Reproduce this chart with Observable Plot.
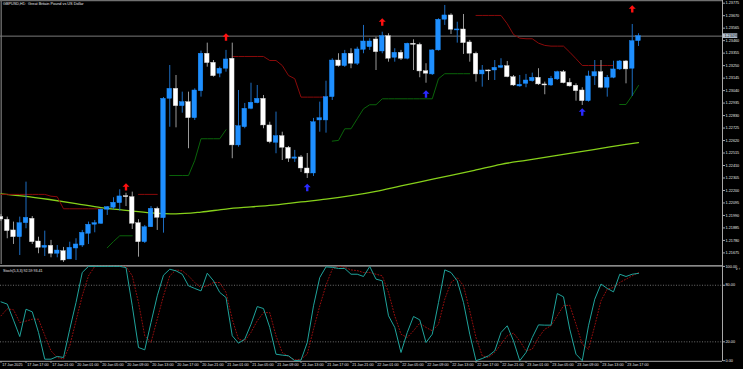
<!DOCTYPE html>
<html><head><meta charset="utf-8">
<script src="https://cdn.jsdelivr.net/npm/d3@7"></script>
<script src="https://cdn.jsdelivr.net/npm/@observablehq/plot@0.6"></script>
<style>
html,body{margin:0;padding:0;background:#000;overflow:hidden}
#wrap{position:relative;width:743px;height:369px;background:#000}
#main{position:absolute;left:0;top:0;line-height:0}
#stoch{position:absolute;left:0;top:264px;line-height:0}
</style></head>
<body><div id="wrap"><div id="main"></div><div id="stoch"></div></div>
<script>
// ---------- DATA ----------
const title = "GBPUSD,H1:  Great Britain Pound vs US Dollar";
const stochTitle = "Stoch(5,3,3) 92.59 93.41";
const open = [1.21977,1.21954,1.21864,1.21807,1.21925,1.21962,1.21771,1.21718,1.21735,1.21668,1.21690,1.21620,1.21712,1.21737,1.21836,1.21912,1.21920,1.22038,1.22055,1.22093,1.22150,1.22144,1.21925,1.21765,1.21891,1.22046,1.21967,1.22971,1.23055,1.22909,1.22943,1.22808,1.23035,1.23350,1.23274,1.23182,1.23224,1.23308,1.22579,1.22732,1.22887,1.22934,1.22971,1.22747,1.22601,1.22657,1.22559,1.22467,1.22478,1.22385,1.22343,1.22789,1.22789,1.22985,1.23293,1.23246,1.23350,1.23266,1.23383,1.23405,1.23470,1.23369,1.23498,1.23316,1.23358,1.23308,1.23434,1.23425,1.23203,1.23176,1.23378,1.23636,1.23672,1.23546,1.23554,1.23445,1.23350,1.23176,1.23209,1.23209,1.23232,1.23246,1.23153,1.23075,1.23097,1.23119,1.23148,1.23092,1.23083,1.23134,1.23195,1.23106,1.23081,1.23041,1.22951,1.23159,1.23195,1.23064,1.23148,1.23218,1.23285,1.23224,1.23456];
const high = [1.21998,1.21976,1.21934,1.21976,1.22270,1.21981,1.21807,1.21858,1.21780,1.21737,1.21721,1.21765,1.21794,1.21864,1.21934,1.21948,1.22046,1.22065,1.22139,1.22206,1.22177,1.22186,1.21954,1.21906,1.22065,1.22060,1.22982,1.23251,1.23167,1.23027,1.23027,1.23055,1.23372,1.23439,1.23293,1.23237,1.23378,1.23439,1.23041,1.22932,1.23102,1.23083,1.22999,1.22774,1.22859,1.22690,1.22570,1.22537,1.22494,1.22511,1.22806,1.22943,1.23119,1.23308,1.23350,1.23378,1.23392,1.23405,1.23588,1.23476,1.23489,1.23531,1.23518,1.23392,1.23378,1.23439,1.23467,1.23439,1.23266,1.23383,1.23644,1.23756,1.23686,1.23615,1.23680,1.23462,1.23363,1.23251,1.23213,1.23293,1.23308,1.23285,1.23167,1.23167,1.23176,1.23187,1.23224,1.23111,1.23159,1.23203,1.23209,1.23140,1.23097,1.23064,1.23203,1.23293,1.23293,1.23167,1.23287,1.23293,1.23293,1.23596,1.23518];
const low = [1.21939,1.21794,1.21746,1.21653,1.21878,1.21746,1.21668,1.21645,1.21634,1.21634,1.21595,1.21628,1.21611,1.21721,1.21746,1.21844,1.21914,1.21990,1.22038,1.22026,1.22065,1.21872,1.21639,1.21754,1.21889,1.21864,1.21841,1.22732,1.22727,1.22850,1.22551,1.22789,1.22985,1.23237,1.23153,1.23148,1.23195,1.22467,1.22564,1.22719,1.22879,1.22929,1.22719,1.22593,1.22509,1.22452,1.22436,1.22436,1.22351,1.22301,1.22318,1.22690,1.22682,1.22957,1.23237,1.23235,1.23224,1.23251,1.23350,1.23378,1.23209,1.23350,1.23279,1.23279,1.23293,1.23299,1.23209,1.23148,1.23102,1.23167,1.23372,1.23588,1.23512,1.23439,1.23344,1.23279,1.23111,1.23069,1.23125,1.23125,1.23224,1.23148,1.23075,1.23069,1.23064,1.23111,1.23083,1.23005,1.23075,1.23125,1.23097,1.23069,1.22951,1.22915,1.22943,1.23083,1.23055,1.22985,1.23140,1.23209,1.23097,1.22991,1.23411];
const close = [1.21956,1.21858,1.21807,1.21925,1.21970,1.21765,1.21718,1.21735,1.21668,1.21695,1.21611,1.21718,1.21746,1.21844,1.21912,1.21925,1.22038,1.22060,1.22097,1.22150,1.22144,1.21920,1.21765,1.21891,1.22046,1.21970,1.22971,1.23055,1.22909,1.22943,1.22808,1.23041,1.23350,1.23271,1.23161,1.23224,1.23302,1.22579,1.22741,1.22887,1.22938,1.22971,1.22747,1.22606,1.22657,1.22559,1.22467,1.22478,1.22385,1.22343,1.22774,1.22808,1.22985,1.23293,1.23246,1.23350,1.23266,1.23386,1.23453,1.23453,1.23363,1.23498,1.23308,1.23358,1.23308,1.23434,1.23425,1.23201,1.23182,1.23378,1.23636,1.23672,1.23552,1.23554,1.23439,1.23350,1.23176,1.23209,1.23201,1.23232,1.23246,1.23153,1.23083,1.23089,1.23125,1.23148,1.23092,1.23083,1.23140,1.23195,1.23102,1.23075,1.23035,1.22951,1.23159,1.23195,1.23064,1.23148,1.23218,1.23285,1.23218,1.23456,1.23498];

// trailing lines (null = not drawn)
const _ = null;
const redLine = [1.22167,1.22167,1.22167,1.22167,1.22167,1.22167,1.22167,1.22167,1.22152,1.22147,1.22046,1.22046,1.22046,1.22046,1.22046,1.22046,1.22046,_,_,_,_,_,1.22167,1.22167,1.22167,1.22167,_,_,_,_,_,_,_,_,_,_,_,1.23327,1.23327,1.23327,1.23327,1.23327,1.23327,1.23293,1.23293,1.23251,1.23167,1.23140,1.22985,1.22985,1.22985,1.22985,1.22985,_,_,_,_,_,_,_,_,_,_,_,_,_,_,_,_,_,_,_,_,_,_,_,1.23672,1.23672,1.23672,1.23672,1.23672,1.23602,1.23512,1.23481,1.23476,1.23476,1.23439,1.23420,1.23414,1.23414,1.23414,1.23363,1.23308,1.23251,1.23251,1.23251,1.23251,1.23251,1.23251,_,_,_,_];
const greenLine = [_,_,_,_,_,_,_,_,_,_,_,_,_,_,_,_,_,1.21718,1.21771,1.21819,1.21819,1.21819,_,_,_,_,_,1.22326,1.22326,1.22326,1.22326,1.22452,1.22635,1.22635,1.22635,1.22635,1.22711,_,_,_,_,_,_,_,_,_,_,_,_,_,_,_,_,1.22615,1.22621,1.22719,1.22719,1.22803,1.22887,1.22921,1.22921,1.22971,1.22971,1.22971,1.22971,1.22971,1.22971,1.22971,1.22971,1.22971,1.23140,1.23182,1.23182,1.23182,1.23182,1.23182,_,_,_,_,_,_,_,_,_,_,_,_,_,_,_,_,_,_,_,_,_,_,_,1.22923,1.22923,1.22999,1.23083];

// moving average read every 4 bars
const maBar = [0,4,8,12,16,20,24,28,32,36,40,44,48,52,56,60,64,68,72,76,80,84,88,92,96,100,102];
const maVal = [1.22172,1.22151,1.22122,1.22090,1.22056,1.22033,1.22012,1.22003,1.22018,1.22044,1.22062,1.22079,1.22104,1.22127,1.22156,1.22193,1.22239,1.22283,1.22327,1.22373,1.22420,1.22454,1.22487,1.22521,1.22554,1.22587,1.22603];

// arrows
const redArrowBar = [20,36,61,101];
const redArrowVal = [1.22230,1.23491,1.23617,1.23727];
const blueArrowBar = [49,68,93];
const blueArrowVal = [1.22225,1.23012,1.22860];

// stochastic
const stochK = [62.4,60,43,25.6,54.6,51.8,30,1.6,1.6,4.5,3.4,33.4,61.7,93.6,100,100,100,100,100,100,98.8,58.2,14,11.5,40.5,68.8,90.7,97,95.3,91.7,79.4,76.6,74,92.8,84.7,72.4,67,26.4,18.6,22.8,38.7,57.4,55.3,35.3,6.9,5.9,5.2,0,0.6,19.3,58.2,88.2,99.5,99,97.8,97.8,91.7,91.7,89.3,99.9,86.5,84.7,47.6,35.3,8.7,29.9,46.9,43.3,19.3,28.1,61.7,96.3,93.5,84.7,61.7,28.1,0,2.3,5.2,10.5,29.9,37,21,0,8.7,24.6,38,37.7,37.7,71.2,67.7,33.4,6.9,0,37,65.2,81.3,76.6,73,91.7,89.3,91.7,92.59];
const stochD = [47.6,55,54,40.5,42,44,44,27,10.5,3.4,1.6,15.7,42.3,68.8,90,100,100,100,100,100,100,90,61.7,26.4,19.3,44,68.8,90,96.3,95.3,90,82.9,77.6,79.4,82.9,82.9,72.4,44,22.8,21,30,42.3,51,51,26.4,8.7,4.5,0.9,1.6,6.9,33.4,58,80,97,100,99,96.3,95.5,93.5,93.5,91.7,90,72.4,47.6,28.1,24.6,31.7,39.8,35.3,31.7,38.7,65.2,82.9,88.2,79.4,52.9,24.6,5.2,3.4,8.7,17.5,26.4,29.2,21,10.5,12.2,24.6,33.4,37,47.6,58.2,58.9,38.7,17.5,12.2,37,63.5,75.9,77.6,82.9,86.5,90,93.41];

const priceTicks = [1.23775,1.23670,1.23565,1.23460,1.23355,1.23250,1.23145,1.23040,1.22935,1.22830,1.22725,1.22620,1.22515,1.22410,1.22305,1.22200,1.22095,1.21990,1.21885,1.21780,1.21675];
const stochTicks = [100,80,20,0];
const timeLabels = ["17 Jan 2025","17 Jan 17:00","17 Jan 21:00","20 Jan 01:00","20 Jan 05:00","20 Jan 09:00","20 Jan 13:00","20 Jan 17:00","20 Jan 21:00","21 Jan 01:00","21 Jan 05:00","21 Jan 09:00","21 Jan 13:00","21 Jan 17:00","21 Jan 21:00","22 Jan 01:00","22 Jan 05:00","22 Jan 09:00","22 Jan 13:00","22 Jan 17:00","22 Jan 21:00","23 Jan 01:00","23 Jan 05:00","23 Jan 09:00","23 Jan 13:00","23 Jan 17:00"];

// ---------- BUILD ----------
const FONT = "Liberation Sans, Arial, sans-serif";
const TXT = "#e6e6e6";
const AX = "#a8a8a8";
const xDomain = [-0.08, 115.44];
const xMax = xDomain[1];
const yDomain = [1.215775, 1.237977];

const bars = close.map((c, i) => ({i, o: open[i], h: high[i], l: low[i], c, up: c >= open[i]}));
const redPts = redLine.map((v, i) => ({i, v}));
const greenPts = greenLine.map((v, i) => ({i, v}));
const maPts = maBar.map((b, k) => ({i: b, v: maVal[k]}));
const redArrows = redArrowBar.map((b, k) => ({i: b, v: redArrowVal[k]}));
const blueArrows = blueArrowBar.map((b, k) => ({i: b, v: blueArrowVal[k]}));
const kPts = stochK.map((v, i) => ({i, v}));
const dPts = stochD.map((v, i) => ({i, v}));
const timePts = timeLabels.map((t, k) => ({i: k * 4, t}));
const last = close[close.length - 1];

const arrowUp = {
  draw(ctx, size) {
    const r = Math.sqrt(size / Math.PI);
    ctx.moveTo(0, -r);
    ctx.lineTo(r * 0.95, -r * 0.05);
    ctx.lineTo(r * 0.32, -r * 0.05);
    ctx.lineTo(r * 0.32, r);
    ctx.lineTo(-r * 0.32, r);
    ctx.lineTo(-r * 0.32, -r * 0.05);
    ctx.lineTo(-r * 0.95, -r * 0.05);
    ctx.closePath();
  }
};

const pxPrice = (yDomain[1] - yDomain[0]) / 264;

const main = Plot.plot({
  width: 743, height: 264,
  marginLeft: 0, marginRight: 21, marginTop: 0, marginBottom: 0,
  style: {background: "#000", color: TXT, fontFamily: FONT, overflow: "visible"},
  x: {type: "linear", domain: xDomain, axis: null},
  y: {domain: yDomain},
  marks: [
    Plot.ruleY([yDomain[1]], {stroke: "#707070", strokeWidth: 1.5}),
    Plot.ruleX([xDomain[0]], {stroke: "#6a6a6a", dx: 0.7, strokeWidth: 1.4}),
    Plot.ruleY([last], {stroke: "#7a7a7a", strokeWidth: 1}),
    Plot.line(maPts, {x: "i", y: "v", stroke: "#86d01a", strokeWidth: 1.3, curve: "monotone-x"}),
    Plot.line(redPts, {x: "i", y: "v", stroke: "#8a0a0a", strokeWidth: 1}),
    Plot.line(greenPts, {x: "i", y: "v", stroke: "#0a640a", strokeWidth: 1}),
    Plot.ruleX(bars, {x: "i", y1: "l", y2: "h", stroke: d => d.up ? "#1d6cc0" : "#9a9a9a", strokeWidth: 1}),
    Plot.rect(bars, {
      x1: d => d.i - 0.37, x2: d => d.i + 0.37,
      y1: d => Math.min(d.o, d.c),
      y2: d => Math.max(Math.max(d.o, d.c), Math.min(d.o, d.c) + pxPrice),
      fill: d => d.up ? "#1e8fff" : "#ffffff",
      stroke: d => d.up ? "#1e8fff" : "#cfcfcf", strokeWidth: 0.4
    }),
    Plot.dot(redArrows, {x: "i", y: "v", symbol: arrowUp, r: 3.7, fill: "#ff1010", stroke: "none"}),
    Plot.dot(blueArrows, {x: "i", y: "v", symbol: arrowUp, r: 3.7, fill: "#2a2aff", stroke: "none"}),
    Plot.ruleX([xMax], {stroke: AX, strokeWidth: 1}),
    Plot.axisY({anchor: "right", ticks: priceTicks, tickFormat: d => d.toFixed(5), tickSize: 2, tickPadding: 1, fontSize: 3.8, color: TXT, stroke: AX}),
    Plot.rect([last], {x1: xMax + 0.08, x2: xMax + 2.45, y1: d => d - 2.3 * pxPrice, y2: d => d + 2.3 * pxPrice, fill: "#b4c2d2"}),
    Plot.text([last], {x: xMax + 0.3, y: d => d, text: d => d.toFixed(5), textAnchor: "start", fontSize: 3.8, fill: "#101010"}),
    Plot.text([title], {frameAnchor: "top-left", dx: 2.5, dy: 2.2, lineAnchor: "top", textAnchor: "start", text: d => d, fontSize: 3.8, fill: TXT})
  ]
});
document.getElementById("main").append(main);

const stoch = Plot.plot({
  width: 743, height: 105,
  marginLeft: 0, marginRight: 21, marginTop: 1.9, marginBottom: 8.8,
  style: {background: "#000", color: TXT, fontFamily: FONT, overflow: "visible"},
  x: {type: "linear", domain: xDomain, axis: null},
  y: {domain: [0, 100]},
  marks: [
    Plot.ruleY([100], {stroke: "#b8b8b8", strokeWidth: 1.3, dy: -0.6}),
    Plot.ruleY([80, 20], {stroke: "#8a8a8a", strokeWidth: 0.8, strokeDasharray: "1,1.6"}),
    Plot.ruleY([0], {stroke: AX, strokeWidth: 1, dy: 0.6}),
    Plot.line(dPts, {x: "i", y: "v", stroke: "#a81010", strokeWidth: 0.9, strokeDasharray: "1,2"}),
    Plot.line(kPts, {x: "i", y: "v", stroke: "#1fa39b", strokeWidth: 1}),
    Plot.ruleX([xMax], {y1: -0.9, y2: 102, stroke: AX, strokeWidth: 1}),
    Plot.axisY({anchor: "right", ticks: stochTicks, tickFormat: d => d.toFixed(2), tickSize: 2, tickPadding: 1, fontSize: 3.8, color: TXT, stroke: AX}),
    Plot.ruleX(timePts, {x: "i", y1: -0.9, y2: -3.0, stroke: AX, strokeWidth: 0.8}),
    Plot.text(timePts, {x: "i", y: -4.6, text: "t", textAnchor: "start", dx: 1.2, fontSize: 3.7, fill: TXT}),
    Plot.text([stochTitle], {frameAnchor: "top-left", dx: 2.5, dy: 3, lineAnchor: "top", textAnchor: "start", text: d => d, fontSize: 3.6, fill: TXT})
  ]
});
document.getElementById("stoch").append(stoch);
</script>
</body></html>
